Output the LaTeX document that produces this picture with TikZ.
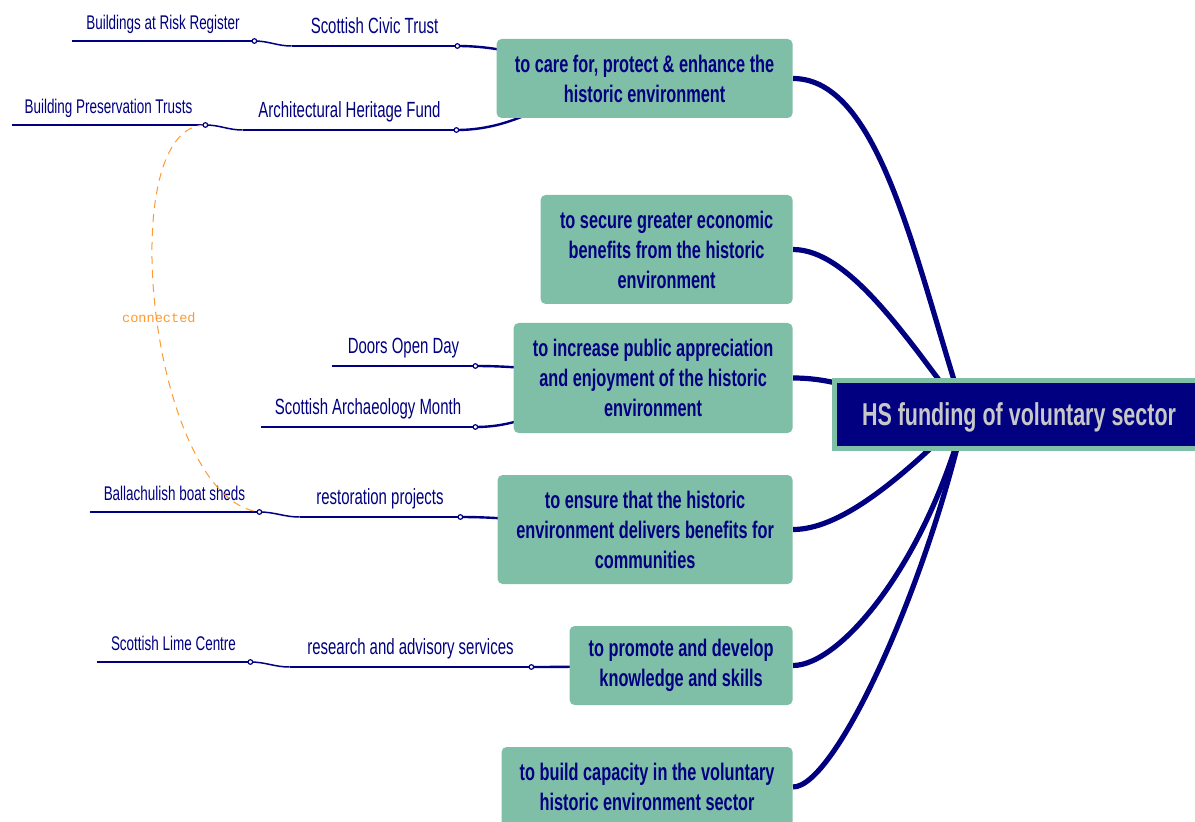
\documentclass[tikz,border=0pt]{standalone}
\usepackage{fontspec}
\setmainfont{Liberation Sans}[FakeStretch=0.68]
\newfontfamily\linkfont{Liberation Mono}
\usetikzlibrary{backgrounds, calc}
\definecolor{hsnavy}{RGB}{0,0,128}
\definecolor{hsgreen}{RGB}{127,191,168}
\definecolor{hsgrey}{RGB}{200,200,200}
\definecolor{linkorange}{RGB}{255,153,51}
\tikzset{
  goal/.style={fill=hsgreen, rounded corners=2.5pt, text=hsnavy, align=center,
    font=\bfseries\fontsize{12}{15}\selectfont, inner sep=0pt, anchor=east},
  rootbox/.style={fill=hsnavy, draw=hsgreen, line width=2.5pt, text=hsgrey,
    font=\bfseries\fontsize{15.8}{19}\selectfont, minimum width=185pt, minimum height=34pt,
    text height=14.4pt, text depth=3.3pt},
  underline/.style={draw=hsnavy, line width=0.75pt},
  topic/.style={anchor=south, inner sep=0pt, text=hsnavy, text depth=6pt,
    font=\fontsize{11}{13}\selectfont,
    append after command={(\tikzlastnode.south west) edge[underline] (\tikzlastnode.south east)}},
  subtopic/.style={topic, text depth=5.5pt, font=\fontsize{9.9}{12}\selectfont},
  knob/.style={draw=hsnavy, fill=white, line width=0.6pt},
  branch/.style={draw=hsnavy, line width=2.6pt},
  twig/.style={draw=hsnavy, line width=1.2pt},
  link/.style={draw=linkorange, line width=0.5pt, dash pattern=on 4pt off 3pt},
}
\begin{document}
\begin{tikzpicture}[x=0.5pt, y=0.5pt]
\useasboundingbox (0,0) rectangle (1195,821);

% Root
\node[rootbox] (root) at (1019,407) {HS funding of voluntary sector};
\coordinate (hub) at (965,406);

% Goals
\node[goal, minimum width=148pt, minimum height=39.5pt] (care) at (793,742.5) {to care for, protect \& enhance the\\historic environment};
\node[goal, minimum width=126pt, minimum height=54.5pt] (econ) at (793,571.5) {to secure greater economic\\benefits from the historic\\environment};
\node[goal, minimum width=139.5pt, minimum height=55pt] (appr) at (793,443) {to increase public appreciation\\and enjoyment of the historic\\environment};
\node[goal, minimum width=147.5pt, minimum height=54.5pt] (comm) at (793,291.5) {to ensure that the historic\\environment delivers benefits for\\communities};
\node[goal, minimum width=111.5pt, minimum height=39.5pt] (skill) at (793,155.5) {to promote and develop\\knowledge and skills};
\node[goal, minimum width=145.5pt, minimum height=40pt] (capa) at (793,34) {to build capacity in the voluntary\\historic environment sector};

% Topics
\node[topic, minimum width=82.5pt] (sct) at (374.5,775) {Scottish Civic Trust};
\node[topic, minimum width=106.5pt] (ahf) at (349.5,691) {Architectural Heritage Fund};
\node[topic, minimum width=71.5pt] (dod) at (403.5,455) {Doors Open Day};
\node[topic, minimum width=107pt] (sam) at (368,394) {Scottish Archaeology Month};
\node[topic, minimum width=80pt] (rp) at (380,304) {restoration projects};
\node[topic, minimum width=120.5pt] (ras) at (410.5,154) {research and advisory services};

% Subtopics
\node[subtopic, minimum width=91pt] (barr) at (163,780) {Buildings at Risk Register};
\node[subtopic, minimum width=96.5pt] (bpt) at (108.5,696) {Building Preservation Trusts};
\node[subtopic, minimum width=84.5pt] (bbs) at (174.5,309) {Ballachulish boat sheds};
\node[subtopic, minimum width=76.5pt] (slc) at (173.5,159) {Scottish Lime Centre};

% Edges behind the boxes
\begin{scope}[on background layer]
\draw[branch] (care.east) .. controls +(87,0) and +(-50,154) .. (hub);
\draw[branch] (econ.east) .. controls +(55,0) and +(-60,80) .. (hub);
\draw[branch] (appr.east) to[out=0, in=180] (hub);
\draw[branch] (comm.east) .. controls +(45,0) and +(-70,-70) .. (hub);
\draw[branch] (skill.east) .. controls +(47,0) and +(-40,-150) .. (hub);
\draw[branch] (capa.east) .. controls +(42,0) and +(-40,-176) .. (hub);
\draw[twig] (sct.south east) to[out=0, in=180] (care.center);
\draw[twig] (ahf.south east) to[out=0, in=180] (care.center);
\draw[twig] (dod.south east) to[out=0, in=180] (appr.center);
\draw[twig] (sam.south east) to[out=0, in=180] (appr.center);
\draw[twig] (rp.south east) to[out=0, in=180] (comm.center);
\draw[twig] (ras.south east) to[out=0, in=180] (skill.center);
\end{scope}

% Subtopic links
\draw[underline] (barr.south east) to[out=0, in=180] (sct.south west);
\draw[underline] (bpt.south east) to[out=0, in=180] (ahf.south west);
\draw[underline] (bbs.south east) to[out=0, in=180] (rp.south west);
\draw[underline] (slc.south east) to[out=0, in=180] (ras.south west);

% Arrow link
\draw[link] (bpt.south east) .. controls +(-95,0) and +(-109,12) .. (bbs.south east)
  node[pos=0.5, xshift=1.5pt, yshift=-2pt, text=linkorange, font=\linkfont\fontsize{6.8}{8}\selectfont] {connected};

\foreach \n in {barr,sct,bpt,ahf,dod,sam,bbs,rp,slc,ras} {
    \draw[knob] (\n.south east) circle (2.3);
}
\end{tikzpicture}
\end{document}
